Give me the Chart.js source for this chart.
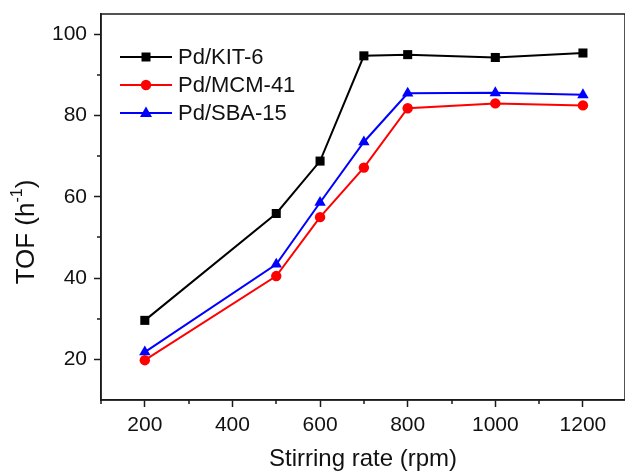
<!DOCTYPE html>
<html>
<head>
<meta charset="utf-8">
<script src="https://cdn.jsdelivr.net/npm/chart.js@4/dist/chart.umd.min.js"></script>
<style>
  body { margin: 0; background: #fff; }
  canvas { display: block; }
</style>
</head>
<body>
<canvas id="tofChart" width="625" height="474"></canvas>
<script>
const rates = [200, 500, 600, 700, 800, 1000, 1200];
const kit6 = [29.6, 55.9, 68.8, 94.7, 95.0, 94.3, 95.4];
const mcm41 = [19.8, 40.5, 55.0, 67.2, 81.8, 83.0, 82.5];
const sba15 = [21.8, 43.4, 58.6, 73.5, 85.5, 85.6, 85.1];

const xTicks = [200, 400, 600, 800, 1000, 1200];
const xMinor = [100, 300, 500, 700, 900, 1100];
const yTicks = [20, 40, 60, 80, 100];
const yMinor = [30, 50, 70, 90];

const fontFamily = "'Liberation Sans', Arial, sans-serif";
const axisColor = '#1a1a1a';

function toPoints(values) {
    return rates.map((r, i) => ({ x: r, y: values[i] }));
}

function marker(ctx, style, x, y, color) {
    ctx.save();
    ctx.fillStyle = color;
    ctx.beginPath();
    if (style === 'rect') {
        ctx.rect(x - 4.5, y - 4.5, 9, 9);
    } else if (style === 'circle') {
        ctx.arc(x, y, 5.2, 0, Math.PI * 2);
    } else {
        ctx.moveTo(x, y - 6.5);
        ctx.lineTo(x + 6, y + 4);
        ctx.lineTo(x - 6, y + 4);
        ctx.closePath();
    }
    ctx.fill();
    ctx.restore();
}

// box, minor ticks, y title and legend
const decorations = {
    id: 'decorations',
    afterDraw(chart) {
        const ctx = chart.ctx;
        const area = chart.chartArea;
        const xs = chart.scales.x;
        const ys = chart.scales.y;

        ctx.save();
        ctx.strokeStyle = axisColor;
        ctx.lineWidth = 1.5;
        ctx.strokeRect(area.left, area.top, area.right - area.left, area.bottom - area.top);

        ctx.beginPath();
        xMinor.forEach(v => {
            const px = Math.round(xs.getPixelForValue(v));
            ctx.moveTo(px, area.bottom);
            ctx.lineTo(px, area.bottom + 4);
        });
        yMinor.forEach(v => {
            const py = Math.round(ys.getPixelForValue(v));
            ctx.moveTo(area.left, py);
            ctx.lineTo(area.left - 4, py);
        });
        ctx.stroke();

        // y axis title with superscript
        ctx.translate(27, 232);
        ctx.rotate(-Math.PI / 2);
        ctx.fillStyle = '#111';
        ctx.textBaseline = 'middle';
        const main = 'TOF (h';
        const sup = '-1';
        ctx.font = '26px ' + fontFamily;
        const wMain = ctx.measureText(main).width;
        const wClose = ctx.measureText(')').width;
        ctx.font = '16px ' + fontFamily;
        const wSup = ctx.measureText(sup).width;
        let sx = -(wMain + wSup + wClose) / 2;
        ctx.font = '26px ' + fontFamily;
        ctx.fillText(main, sx, 0);
        sx += wMain;
        ctx.font = '16px ' + fontFamily;
        ctx.fillText(sup, sx, -9);
        sx += wSup;
        ctx.font = '26px ' + fontFamily;
        ctx.fillText(')', sx, 0);
        ctx.restore();

        // legend
        ctx.save();
        ctx.font = '22px ' + fontFamily;
        ctx.textBaseline = 'middle';
        chart.data.datasets.forEach((ds, i) => {
            const ly = 57 + i * 28;
            ctx.strokeStyle = ds.borderColor;
            ctx.lineWidth = 2;
            ctx.beginPath();
            ctx.moveTo(120, ly);
            ctx.lineTo(172, ly);
            ctx.stroke();
            marker(ctx, ds.pointStyle, 146, ly, ds.borderColor);
            ctx.fillStyle = '#111';
            ctx.fillText(ds.label, 178, ly + 1);
        });
        ctx.restore();
    }
};

function series(label, values, color, style, radius) {
    return {
        label: label,
        data: toPoints(values),
        borderColor: color,
        backgroundColor: color,
        borderWidth: 2,
        pointStyle: style,
        pointRadius: radius,
        pointBorderWidth: 0,
        tension: 0
    };
}

new Chart(document.getElementById('tofChart'), {
    type: 'line',
    data: {
        datasets: [
            series('Pd/KIT-6', kit6, '#000000', 'rect', 6.4),
            series('Pd/MCM-41', mcm41, '#ff0000', 'circle', 5.2),
            series('Pd/SBA-15', sba15, '#0000ff', 'triangle', 6.6)
        ]
    },
    options: {
        responsive: false,
        animation: false,
        layout: { autoPadding: false, padding: { top: 14, right: 0, left: 0, bottom: 0 } },
        plugins: {
            legend: { display: false },
            tooltip: { enabled: false }
        },
        scales: {
            x: {
                type: 'linear',
                min: 100,
                max: 1296,
                afterBuildTicks: s => { s.ticks = xTicks.map(v => ({ value: v })); },
                afterFit: s => { s.height = 74; s.paddingRight = 0; s.paddingLeft = 0; },
                grid: { drawOnChartArea: false, drawTicks: true, tickLength: 7, tickColor: axisColor, tickWidth: 1.5 },
                border: { display: true, color: axisColor, width: 1.5 },
                ticks: {
                    color: '#111',
                    font: { family: fontFamily, size: 21 },
                    padding: 6,
                    maxRotation: 0,
                    callback: v => String(v)
                },
                title: {
                    display: true,
                    text: 'Stirring rate (rpm)',
                    color: '#111',
                    font: { family: fontFamily, size: 24 },
                    padding: { top: 0, bottom: 0 }
                }
            },
            y: {
                min: 10,
                max: 105,
                afterBuildTicks: s => { s.ticks = yTicks.map(v => ({ value: v })); },
                afterFit: s => { s.width = 101; s.paddingTop = 0; s.paddingBottom = 0; },
                grid: { drawOnChartArea: false, drawTicks: true, tickLength: 7, tickColor: axisColor, tickWidth: 1.5 },
                border: { display: true, color: axisColor, width: 1.5 },
                ticks: { color: '#111', font: { family: fontFamily, size: 21 }, padding: 7 }
            }
        }
    },
    plugins: [decorations]
});
</script>
</body>
</html>
